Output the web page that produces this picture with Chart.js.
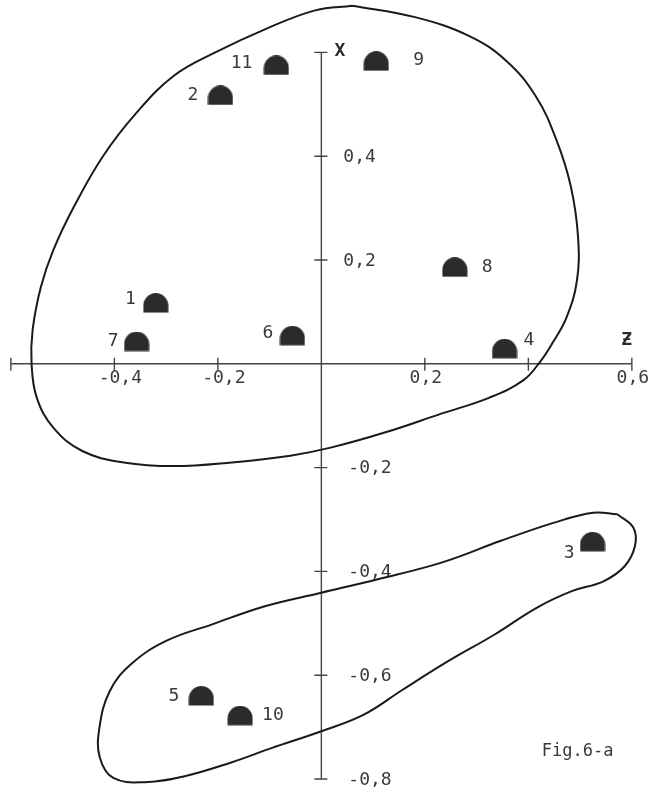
<!DOCTYPE html>
<html>
<head>
<meta charset="utf-8">
<script src="https://cdn.jsdelivr.net/npm/chart.js@4.4.0/dist/chart.umd.min.js"></script>
<style>
  html, body { margin: 0; padding: 0; background: #fff; }
  canvas { display: block; }
</style>
</head>
<body>
<canvas id="fig" width="651" height="792"></canvas>
<script>
// 样本编号及坐标 (Z 横轴, X 纵轴)
const sampleNames = ['1', '2', '3', '4', '5', '6', '7', '8', '9', '10', '11'];
const sampleZ = [-0.320, -0.195, 0.524, 0.354, -0.232, -0.056, -0.357, 0.258, 0.106, -0.157, -0.087];
const sampleX = [0.117, 0.517, -0.343, 0.029, -0.640, 0.054, 0.043, 0.186, 0.583, -0.678, 0.575];

// 刻度
const zTicks = [-0.6, -0.4, -0.2, 0.2, 0.4, 0.6];
const zTickLabels = [-0.4, -0.2, 0.2, 0.6];
const xTicks = [-0.8, -0.6, -0.4, -0.2, 0.2, 0.4, 0.6];
const xTickLabels = [0.4, 0.2, -0.2, -0.4, -0.6, -0.8];

// 第一组包络线
const groupAZ = [0.060, 0.181, 0.285, 0.357, 0.414, 0.454, 0.482, 0.496, 0.494, 0.474, 0.446, 0.422, 0.390, 0.325, 0.229, 0.124, 0.020, -0.060, -0.173, -0.285, -0.382, -0.462, -0.518, -0.550, -0.560, -0.558, -0.542, -0.518, -0.478, -0.422, -0.357, -0.285, -0.205, -0.108, -0.012, 0.060];
const groupAX = [0.690, 0.668, 0.632, 0.584, 0.516, 0.432, 0.342, 0.245, 0.161, 0.090, 0.039, 0.003, -0.032, -0.065, -0.097, -0.132, -0.161, -0.177, -0.190, -0.197, -0.190, -0.168, -0.123, -0.065, 0.000, 0.065, 0.148, 0.219, 0.303, 0.400, 0.484, 0.555, 0.600, 0.645, 0.681, 0.690];

// 第二组包络线
const groupBZ = [0.572, 0.603, 0.606, 0.586, 0.545, 0.484, 0.416, 0.334, 0.245, 0.157, 0.082, 0.000, -0.095, -0.177, -0.266, -0.341, -0.402, -0.428, -0.429, -0.409, -0.368, -0.300, -0.211, -0.109, 0.000, 0.109, 0.232, 0.347, 0.450, 0.525, 0.572];
const groupBX = [-0.290, -0.316, -0.351, -0.390, -0.419, -0.438, -0.470, -0.522, -0.573, -0.628, -0.676, -0.708, -0.740, -0.769, -0.795, -0.806, -0.798, -0.759, -0.702, -0.631, -0.579, -0.534, -0.502, -0.467, -0.441, -0.415, -0.383, -0.341, -0.306, -0.287, -0.290];

const INK = '#2b2b2b';
const TEXT = '#3a3a3a';
const FONT = '"DejaVu Sans Mono", monospace';

// 标签偏移 (像素)
const labelOffsets = {
  '1': [-20, -4, 'right'], '2': [-22, 0, 'right'], '3': [-18, 11, 'right'],
  '4': [19, -8, 'left'], '5': [-22, 0, 'right'], '6': [-19, -2, 'right'],
  '7': [-18, 0, 'right'], '8': [27, 0, 'left'], '9': [37, -1, 'left'],
  '10': [22, 0, 'left'], '11': [-24, -2, 'right']
};

// 半圆形标记
function makeDome() {
  const c = document.createElement('canvas');
  c.width = 26;
  c.height = 20;
  const ctx = c.getContext('2d');
  ctx.fillStyle = INK;
  ctx.beginPath();
  ctx.arc(13, 12.5, 12.5, Math.PI, 0);
  ctx.lineTo(25.5, 19.5);
  ctx.lineTo(0.5, 19.5);
  ctx.closePath();
  ctx.fill();
  return c;
}

const fmt = v => v.toFixed(1).replace('.', ',');
const toXY = (zs, xs) => zs.map((z, i) => ({ x: z, y: xs[i] }));

const sketchPlugin = {
  id: 'sketchAxes',
  beforeDatasetsDraw(chart) {
    const { ctx, scales: { x, y } } = chart;
    const ox = x.getPixelForValue(0);
    const oy = y.getPixelForValue(0);
    ctx.save();
    ctx.strokeStyle = '#444';
    ctx.lineWidth = 1.4;

    // 横轴
    ctx.beginPath();
    ctx.moveTo(x.getPixelForValue(zTicks[0]), oy);
    ctx.lineTo(x.getPixelForValue(zTicks[zTicks.length - 1]), oy);
    zTicks.forEach(v => {
      const px = x.getPixelForValue(v);
      ctx.moveTo(px, oy - 6);
      ctx.lineTo(px, oy + 7);
    });
    // 纵轴
    ctx.moveTo(ox, y.getPixelForValue(xTicks[xTicks.length - 1]));
    ctx.lineTo(ox, y.getPixelForValue(xTicks[0]));
    xTicks.forEach(v => {
      const py = y.getPixelForValue(v);
      ctx.moveTo(ox - 7, py);
      ctx.lineTo(ox + 6, py);
    });
    ctx.stroke();

    ctx.fillStyle = TEXT;
    ctx.font = '18px ' + FONT;
    ctx.textBaseline = 'middle';
    ctx.textAlign = 'center';
    zTickLabels.forEach(v => {
      ctx.fillText(fmt(v), x.getPixelForValue(v) + (v < 0 ? 6 : 1), oy + 15);
    });
    ctx.textAlign = 'left';
    xTickLabels.forEach(v => {
      ctx.fillText(fmt(v), ox + (v < 0 ? 27 : 22), y.getPixelForValue(v) + 1);
    });
    ctx.restore();
  },
  afterDatasetsDraw(chart) {
    const { ctx, scales: { x, y } } = chart;
    ctx.save();
    ctx.fillStyle = TEXT;
    ctx.font = '18px ' + FONT;
    ctx.textBaseline = 'middle';
    sampleNames.forEach((name, i) => {
      const [dx, dy, align] = labelOffsets[name];
      ctx.textAlign = align;
      ctx.fillText(name, x.getPixelForValue(sampleZ[i]) + dx, y.getPixelForValue(sampleX[i]) + dy);
    });

    // 轴名
    ctx.fillStyle = INK;
    ctx.font = 'bold 18px ' + FONT;
    ctx.textAlign = 'center';
    ctx.fillText('X', x.getPixelForValue(0.036), y.getPixelForValue(0.603));
    ctx.fillText('Ƶ', x.getPixelForValue(0.59), y.getPixelForValue(0.045));

    ctx.fillStyle = TEXT;
    ctx.font = '17px ' + FONT;
    ctx.textAlign = 'left';
    ctx.fillText('Fig.6-a', x.getPixelForValue(0.426), y.getPixelForValue(-0.747));
    ctx.restore();
  }
};

const outline = (zs, xs) => ({
  type: 'line',
  data: toXY(zs, xs),
  showLine: true,
  borderColor: '#1a1a1a',
  borderWidth: 2,
  pointRadius: 0,
  tension: 0.4,
  fill: false
});

new Chart(document.getElementById('fig'), {
  type: 'scatter',
  data: {
    datasets: [
      {
        data: toXY(sampleZ, sampleX),
        pointStyle: makeDome(),
        pointRadius: 12,
        pointHoverRadius: 12
      },
      outline(groupAZ, groupAX),
      outline(groupBZ, groupBX)
    ]
  },
  options: {
    responsive: false,
    animation: false,
    layout: { padding: 0, autoPadding: false },
    plugins: { legend: { display: false }, tooltip: { enabled: false } },
    scales: {
      x: { type: 'linear', min: -0.621, max: 0.637, display: false },
      y: { type: 'linear', min: -0.825, max: 0.701, display: false }
    }
  },
  plugins: [sketchPlugin]
});
</script>
</body>
</html>
